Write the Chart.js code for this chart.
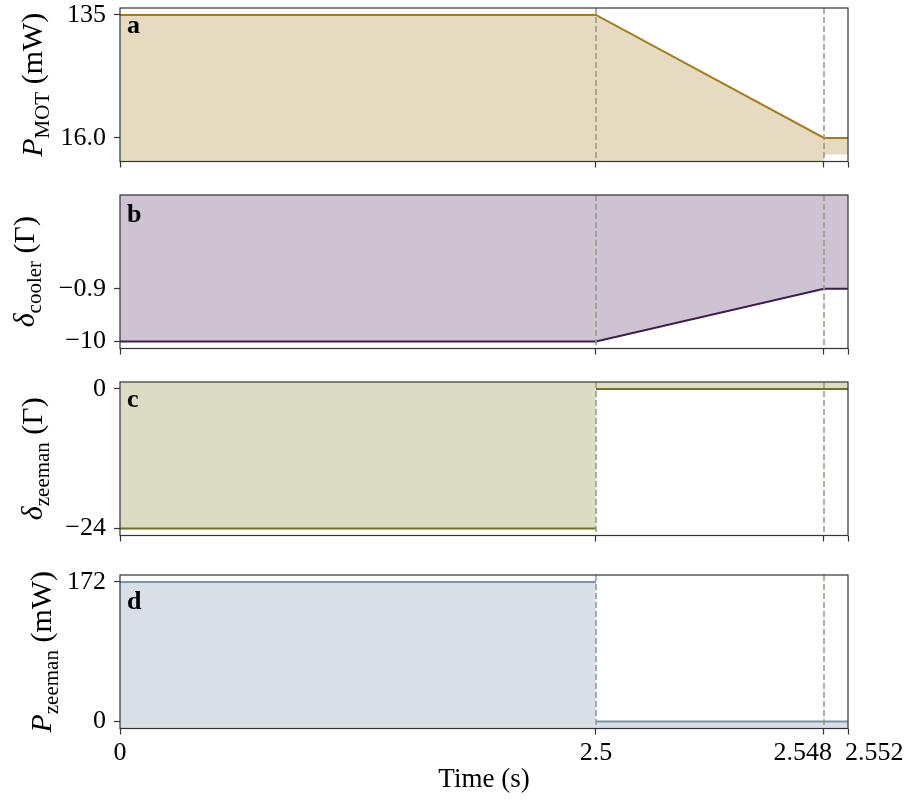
<!DOCTYPE html>
<html>
<head>
<meta charset="utf-8">
<script src="https://cdn.jsdelivr.net/npm/chart.js@4.4.1/dist/chart.umd.min.js"></script>
<style>
  body { margin: 0; background: #fff; }
  #wrap { position: relative; width: 910px; height: 801px; }
  #wrap canvas { position: absolute; left: 0; top: 0; }
</style>
</head>
<body>
<div id="wrap">
  <canvas id="motChart" width="910" height="801"></canvas>
  <canvas id="coolerChart" width="910" height="801"></canvas>
  <canvas id="zeemanDetChart" width="910" height="801"></canvas>
  <canvas id="zeemanPowChart" width="910" height="801"></canvas>
</div>
<script>
// sequence timing (s)
const timeTicks = [0, 2.5, 2.548, 2.552];
const timeTickLabels = ['0', '2.5', '2.548', '2.552'];
const stepTimes = [2.5, 2.548];

// a: MOT beam power (mW)
const motTime = [0, 2.5, 2.548, 2.552];
const motPower = [135, 135, 16, 16];
const motFloor = 0;
const motTicks = [16, 135];
const motTickLabels = ['16.0', '135'];

// b: cooler detuning (Γ)
const coolerTime = [0, 2.5, 2.548, 2.552];
const coolerDetuning = [-10, -10, -0.9, -0.9];
const coolerTicks = [-10, -0.9];
const coolerTickLabels = ['\u221210', '\u22120.9'];

// c: zeeman slower detuning (Γ), switched at 2.5 s
const zeemanTime = [0, 2.5, 2.5, 2.5, 2.552];
const zeemanDetuning = [-24, -24, null, 0, 0];
const zeemanDetTicks = [-24, 0];
const zeemanDetTickLabels = ['\u221224', '0'];

// d: zeeman slower power (mW)
const zeemanPower = [172, 172, null, 0, 0];
const zeemanPowTicks = [0, 172];
const zeemanPowTickLabels = ['0', '172'];

const W = 910, H = 801;
const plotLeft = 120, plotRight = 848;
const xAxisH = 8;
const serif = "'Liberation Serif', 'Times New Roman', serif";
const tickSize = 26;
// share of the axis width given to each time segment
const knotFrac = [0, 0.6538, 0.967, 1];

// x scale that stretches the short ramp segments
class SegmentedScale extends Chart.LinearScale {
  static id = 'segmented';
  static defaults = {};
  getPixelForValue(value) {
    if (value === null || value === undefined || isNaN(value)) return NaN;
    const k = timeTicks;
    let i = 0;
    while (i < k.length - 2 && value > k[i + 1]) i++;
    const t = (value - k[i]) / (k[i + 1] - k[i]);
    const f = knotFrac[i] + t * (knotFrac[i + 1] - knotFrac[i]);
    return this.left + f * this.width;
  }
  getValueForPixel(pixel) {
    const f = (pixel - this.left) / this.width;
    const k = timeTicks;
    let i = 0;
    while (i < k.length - 2 && f > knotFrac[i + 1]) i++;
    const t = (f - knotFrac[i]) / (knotFrac[i + 1] - knotFrac[i]);
    return k[i] + t * (k[i + 1] - k[i]);
  }
}
Chart.register(SegmentedScale);

const pts = (xs, ys) => xs.map((x, i) => ({ x: x, y: ys[i] }));

function drawRich(ctx, parts, bx, cy, size) {
  const subSize = Math.round(size * 0.7);
  const fontOf = p => (p.it ? 'italic ' : '') + (p.sub ? subSize : size) + 'px ' + serif;
  let w = 0;
  parts.forEach(p => { ctx.font = fontOf(p); w += ctx.measureText(p.t).width; });
  ctx.save();
  ctx.translate(bx, cy);
  ctx.rotate(-Math.PI / 2);
  ctx.fillStyle = '#000';
  ctx.textBaseline = 'alphabetic';
  ctx.textAlign = 'left';
  let x = -w / 2;
  parts.forEach(p => {
    ctx.font = fontOf(p);
    ctx.fillText(p.t, x, p.sub ? size * 0.22 : 0);
    x += ctx.measureText(p.t).width;
  });
  ctx.restore();
}

function makePanel(p) {
  const decor = {
    id: 'decor',
    afterDatasetsDraw(chart) {
      const { ctx, chartArea: a } = chart;
      const xs = chart.scales.x;
      ctx.save();
      ctx.strokeStyle = '#9d9a8a';
      ctx.lineWidth = 1.6;
      ctx.setLineDash([6, 3]);
      stepTimes.forEach(t => {
        const x = Math.round(xs.getPixelForValue(t));
        ctx.beginPath();
        ctx.moveTo(x, a.top);
        ctx.lineTo(x, a.bottom);
        ctx.stroke();
      });
      ctx.setLineDash([]);
      ctx.strokeStyle = '#333';
      ctx.lineWidth = 1.2;
      ctx.strokeRect(a.left, a.top, a.right - a.left, a.bottom - a.top);
      ctx.restore();
    },
    afterDraw(chart) {
      const { ctx, chartArea: a } = chart;
      ctx.save();
      ctx.fillStyle = '#000';
      ctx.font = 'bold 26px ' + serif;
      ctx.textAlign = 'left';
      ctx.textBaseline = 'alphabetic';
      ctx.fillText(p.letter, a.left + 7, p.letterY);
      drawRich(ctx, p.title, p.titleX, (a.top + a.bottom) / 2, 30);
      if (p.showTime) {
        const xs = chart.scales.x;
        const align = ['center', 'center', 'right', 'left'];
        const shift = [0, 0, 8, -3];
        ctx.font = tickSize + 'px ' + serif;
        timeTicks.forEach((t, i) => {
          ctx.textAlign = align[i];
          ctx.fillText(timeTickLabels[i], xs.getPixelForValue(t) + shift[i], a.bottom + 31);
        });
        ctx.textAlign = 'center';
        ctx.font = '27px ' + serif;
        ctx.fillText('Time (s)', (a.left + a.right) / 2, a.bottom + 58);
      }
      ctx.restore();
    }
  };

  return new Chart(document.getElementById(p.id), {
    type: 'line',
    data: { datasets: p.datasets },
    options: {
      responsive: false,
      animation: false,
      events: [],
      layout: { padding: { top: p.top, bottom: H - p.bottom - xAxisH, left: 0, right: W - plotRight } },
      elements: { point: { radius: 0 }, line: { tension: 0 } },
      plugins: { legend: { display: false }, tooltip: { enabled: false } },
      scales: {
        x: {
          type: 'segmented',
          min: timeTicks[0],
          max: timeTicks[timeTicks.length - 1],
          afterBuildTicks: s => { s.ticks = timeTicks.map(v => ({ value: v })); },
          afterFit: s => { s.height = xAxisH; s.paddingLeft = 0; s.paddingRight = 0; },
          ticks: { display: false },
          grid: { drawOnChartArea: false, drawTicks: true, tickLength: 6, color: '#333', tickWidth: 1.2 },
          border: { display: false }
        },
        y: {
          type: 'linear',
          min: p.yMin,
          max: p.yMax,
          afterBuildTicks: s => { s.ticks = p.yTicks.map(v => ({ value: v })); },
          afterFit: s => { s.width = plotLeft; s.paddingTop = 0; s.paddingBottom = 0; },
          ticks: {
            font: { family: serif, size: tickSize },
            color: '#000',
            padding: 8,
            autoSkip: false,
            callback: (v, i) => p.yTickLabels[i]
          },
          grid: { drawOnChartArea: false, drawTicks: true, tickLength: 6, color: '#333', tickWidth: 1.2 },
          border: { display: false }
        }
      }
    },
    plugins: [decor]
  });
}

// a
const motPts = pts(motTime, motPower);
makePanel({
  id: 'motChart', top: 8, bottom: 161.5, yMin: -6.75, yMax: 141.75,
  yTicks: motTicks, yTickLabels: motTickLabels,
  letter: 'a', letterY: 33, titleX: 42,
  title: [{ t: 'P', it: true }, { t: 'MOT', sub: true }, { t: ' (mW)' }],
  datasets: [
    { data: motPts, borderColor: '#a67b1b', borderWidth: 2, fill: false },
    { data: motPts.slice(0, 3), borderColor: 'transparent', borderWidth: 0, backgroundColor: '#e6dbc1', fill: 'start' },
    { data: motPts.slice(2), borderColor: 'transparent', borderWidth: 0, backgroundColor: '#e6dbc1', fill: { value: motFloor } }
  ]
});

// b
makePanel({
  id: 'coolerChart', top: 195, bottom: 348.5, yMin: -11.2, yMax: 15.3,
  yTicks: coolerTicks, yTickLabels: coolerTickLabels,
  letter: 'b', letterY: 222, titleX: 34,
  title: [{ t: '\u03b4', it: true }, { t: 'cooler', sub: true }, { t: ' (\u0393)' }],
  datasets: [
    { data: pts(coolerTime, coolerDetuning), borderColor: '#3e1c4e', borderWidth: 2, backgroundColor: '#cdc3d3', fill: 'end' }
  ]
});

// c
makePanel({
  id: 'zeemanDetChart', top: 382, bottom: 535.5, yMin: -25.2, yMax: 1.2,
  yTicks: zeemanDetTicks, yTickLabels: zeemanDetTickLabels,
  letter: 'c', letterY: 407, titleX: 42,
  title: [{ t: '\u03b4', it: true }, { t: 'zeeman', sub: true }, { t: ' (\u0393)' }],
  datasets: [
    { data: pts(zeemanTime, zeemanDetuning), borderColor: '#74731a', borderWidth: 2, backgroundColor: '#dcdcc4', fill: 'end' }
  ]
});

// d
makePanel({
  id: 'zeemanPowChart', top: 575, bottom: 728.5, yMin: -8.6, yMax: 180.6,
  yTicks: zeemanPowTicks, yTickLabels: zeemanPowTickLabels,
  letter: 'd', letterY: 609, titleX: 51, showTime: true,
  title: [{ t: 'P', it: true }, { t: 'zeeman', sub: true }, { t: ' (mW)' }],
  datasets: [
    { data: pts(zeemanTime, zeemanPower), borderColor: '#7795b0', borderWidth: 1.8, backgroundColor: '#d8e0e7', fill: 'start' }
  ]
});
</script>
</body>
</html>
